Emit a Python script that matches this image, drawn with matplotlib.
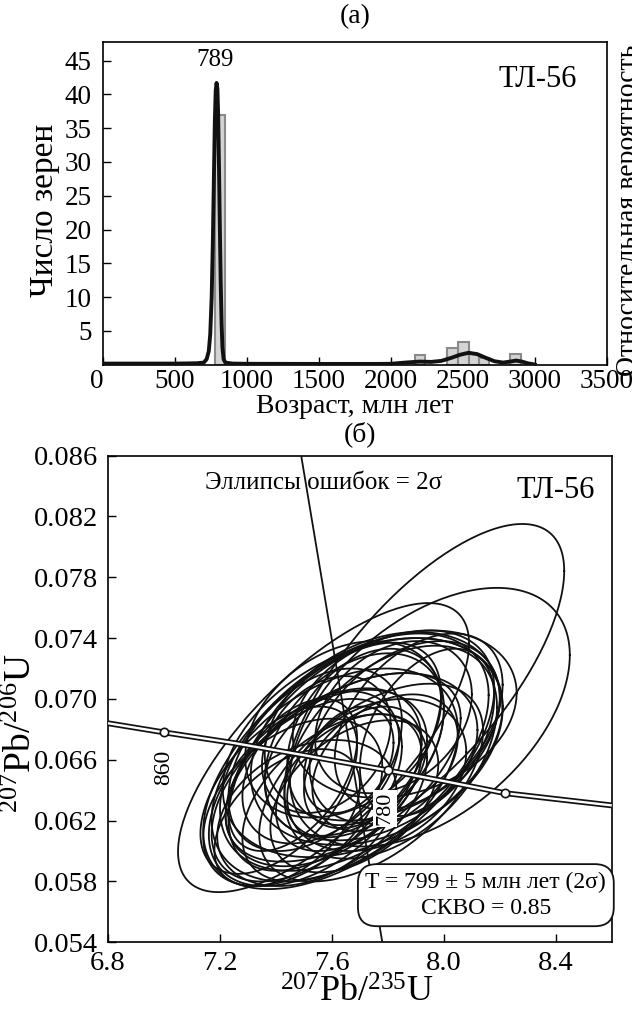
import numpy as np
import matplotlib
matplotlib.use("Agg")
import matplotlib.pyplot as plt

plt.rcParams['font.family'] = ['Liberation Serif', 'DejaVu Serif']
plt.rcParams['mathtext.fontset'] = 'custom'
plt.rcParams['mathtext.rm'] = 'Liberation Serif'
plt.rcParams['mathtext.it'] = 'Liberation Serif'

# --- (a) histogram of ages ---
bin_left = [775, 2165, 2390, 2465, 2540, 2610, 2830]
bin_count = [37, 1.4, 2.5, 3.4, 1.6, 1.0, 1.5]
bin_width = 75

# probability density curve
pdf_age = [0, 300, 500, 650, 700, 720, 735, 745, 755, 763, 770, 777, 783, 789,
           795, 800, 806, 812, 818, 824, 830, 838, 850, 900, 1000, 1500, 1900,
           2000, 2100, 2200, 2280, 2350, 2420, 2480, 2540, 2600, 2660, 2720,
           2780, 2830, 2870, 2910, 2950, 2990, 3000]
pdf_val = [0.15, 0.15, 0.15, 0.2, 0.3, 0.8, 2.0, 4.5, 10, 18, 27, 36, 40.5, 41.7,
           40.8, 37, 29, 20, 12, 6, 2.5, 0.8, 0.3, 0.15, 0.12, 0.1, 0.1,
           0.12, 0.3, 0.45, 0.4, 0.55, 1.0, 1.45, 1.75, 1.55, 1.0, 0.5,
           0.3, 0.45, 0.6, 0.45, 0.2, 0.05, 0.0]

age_ticks = [0, 500, 1000, 1500, 2000, 2500, 3000, 3500]
count_ticks = [5, 10, 15, 20, 25, 30, 35, 40, 45]

# --- (б) concordia plot ---
conc_x = [6.8, 7.0, 7.25, 7.5, 7.8, 8.0, 8.22, 8.6]
conc_y = [0.0684, 0.0678, 0.0671, 0.0663, 0.0653, 0.0646, 0.0638, 0.0630]
conc_mark_x = [7.0, 7.8, 8.22]
conc_mark_y = [0.0678, 0.0653, 0.0638]

line_x = [7.49, 7.78]
line_y = [0.086, 0.054]

# ellipses: centre x, centre y, half-axis x, half-axis y, correlation
ell_cx = [7.93, 7.57, 7.95, 7.66, 7.68, 7.61, 7.76, 7.54, 7.71, 7.64,
          7.78, 7.58, 7.51, 7.74, 7.86, 7.68, 7.46, 7.81, 7.61, 7.72,
          7.56, 7.66, 7.76, 7.41, 7.86, 7.64, 7.51, 7.79, 7.68, 7.91,
          7.58, 7.71, 7.46, 7.82, 7.61, 7.54, 7.74, 7.94, 7.44, 7.66]
ell_cy = [0.0712, 0.0668, 0.0688, 0.0660, 0.0665, 0.0650, 0.0672, 0.0642, 0.0668, 0.0655,
          0.0682, 0.0648, 0.0640, 0.0662, 0.0690, 0.0670, 0.0632, 0.0665, 0.0662, 0.0675,
          0.0655, 0.0645, 0.0650, 0.0640, 0.0678, 0.0680, 0.0625, 0.0658, 0.0636, 0.0685,
          0.0670, 0.0655, 0.0650, 0.0688, 0.0635, 0.0660, 0.0645, 0.0678, 0.0622, 0.0660]
ell_sx = [0.50, 0.52, 0.50, 0.52, 0.48, 0.44, 0.45, 0.38, 0.50, 0.42,
          0.42, 0.36, 0.34, 0.38, 0.40, 0.32, 0.32, 0.38, 0.38, 0.28,
          0.28, 0.26, 0.32, 0.28, 0.34, 0.35, 0.32, 0.26, 0.30, 0.30,
          0.23, 0.21, 0.23, 0.28, 0.33, 0.31, 0.40, 0.24, 0.26, 0.16]
ell_sy = [0.0103, 0.0095, 0.0085, 0.0085, 0.0078, 0.0070, 0.0068, 0.0065, 0.0072, 0.0062,
          0.0062, 0.0058, 0.0060, 0.0055, 0.0055, 0.0060, 0.0055, 0.0070, 0.0075, 0.0058,
          0.0050, 0.0045, 0.0050, 0.0055, 0.0060, 0.0058, 0.0048, 0.0045, 0.0050, 0.0058,
          0.0045, 0.0040, 0.0050, 0.0050, 0.0055, 0.0060, 0.0065, 0.0055, 0.0045, 0.0035]
ell_rho = [0.70, 0.72, 0.48, 0.55, 0.48, 0.42, 0.32, 0.48, 0.38, 0.52,
           0.30, 0.42, 0.48, 0.32, 0.25, 0.38, 0.42, 0.42, 0.55, 0.32,
           0.38, 0.42, 0.30, 0.52, 0.38, 0.32, 0.32, 0.38, 0.42, 0.42,
           0.30, 0.38, 0.48, 0.30, 0.48, 0.42, 0.52, 0.42, 0.48, 0.32]

x_ticks = [6.8, 7.2, 7.6, 8.0, 8.4]
y_ticks = [0.054, 0.058, 0.062, 0.066, 0.070, 0.074, 0.078, 0.082, 0.086]

fig = plt.figure(figsize=(6.32, 10.1), dpi=100)

# ---------- top panel ----------
ax1 = fig.add_axes([0.163, 0.639, 0.797, 0.319])
ax1.bar(bin_left, bin_count, width=bin_width, align='edge',
        color='#d4d4d4', edgecolor='#8a8a8a', linewidth=1.5, zorder=2)
ax1.plot(pdf_age, pdf_val, color='#111111', lw=2.8, zorder=3)
ax1.set_xlim(0, 3500)
ax1.set_ylim(0, 47.7)
ax1.set_xticks(age_ticks)
ax1.set_yticks(count_ticks)
ax1.tick_params(direction='in', labelsize=19.5, length=6, width=1)
ax1.tick_params(axis='y', pad=8)
ax1.xaxis.get_majorticklabels()[0].set_horizontalalignment('right')
ax1.set_xlabel('Возраст, млн лет', fontsize=20, labelpad=0)
ax1.set_ylabel('Число зерен', fontsize=24)
ax1.yaxis.set_label_coords(-0.085, 0.48)
ax1.set_title('(a)', fontsize=20, pad=14)
ax1.text(777, 43.5, '789', fontsize=18, ha='center', va='bottom')
ax1.text(3020, 42.2, 'ТЛ-56', fontsize=22, ha='center', va='center')
fig.text(0.995, 0.792, 'Относительная вероятность', rotation=90, fontsize=20,
         ha='center', va='center')
for s in ax1.spines.values():
    s.set_linewidth(1.2)

# ---------- bottom panel ----------
ax2 = fig.add_axes([0.171, 0.067, 0.797, 0.482])
t = np.linspace(0, 2 * np.pi, 200)
for cx, cy, sx, sy, r in zip(ell_cx, ell_cy, ell_sx, ell_sy, ell_rho):
    ex = cx + sx * np.cos(t)
    ey = cy + sy * (r * np.cos(t) + np.sqrt(1 - r * r) * np.sin(t))
    ax2.plot(ex, ey, color='#111111', lw=1.3, zorder=2)

ax2.plot(conc_x, conc_y, color='#111111', lw=4.2, zorder=3, solid_capstyle='butt')
ax2.plot(conc_x, conc_y, color='white', lw=1.7, zorder=4, solid_capstyle='butt')
ax2.plot(conc_mark_x, conc_mark_y, 'o', ms=6, mfc='white', mec='#111111', mew=1.2, zorder=5)
ax2.plot(line_x, line_y, color='#111111', lw=1.3, zorder=3)

ax2.text(7.0, 0.0655, '860', rotation=90, fontsize=17, ha='center', va='center', zorder=6)
ax2.text(7.79, 0.0628, '780', rotation=90, fontsize=16, ha='center', va='center', zorder=6,
         bbox=dict(boxstyle='square,pad=0.1', fc='white', ec='none'))
ax2.text(7.57, 0.0842, 'Эллипсы ошибок = 2σ', fontsize=18, ha='center', va='center', zorder=1)
ax2.text(8.4, 0.0837, 'ТЛ-56', fontsize=22, ha='center', va='center')
ax2.text(8.15, 0.0571, 'T = 799 ± 5 млн лет (2σ)\nСКВО = 0.85', fontsize=17,
         ha='center', va='center', linespacing=1.3, zorder=7,
         bbox=dict(boxstyle='round,pad=0.32,rounding_size=0.8', fc='white', ec='#111111', lw=1.3))

ax2.set_xlim(6.8, 8.6)
ax2.set_ylim(0.054, 0.086)
ax2.set_xticks(x_ticks)
ax2.set_xticklabels([f'{v:.1f}' for v in x_ticks])
ax2.set_yticks(y_ticks)
ax2.set_yticklabels([f'{v:.3f}' for v in y_ticks])
ax2.tick_params(direction='in', labelsize=20.5, length=6, width=1)
ax2.tick_params(axis='x', pad=6)
ax2.tick_params(axis='y', pad=7)
ax2.set_xlabel(r'$^{207}$Pb/$^{235}$U', fontsize=26)
ax2.xaxis.set_label_coords(0.494, -0.071)
ax2.set_ylabel(r'$^{207}$Pb/$^{206}$U', fontsize=27)
ax2.yaxis.set_label_coords(-0.138, 0.43)
ax2.set_title('(б)', fontsize=20, pad=10)
for s in ax2.spines.values():
    s.set_linewidth(1.2)

fig.savefig('out.png', dpi=100)
